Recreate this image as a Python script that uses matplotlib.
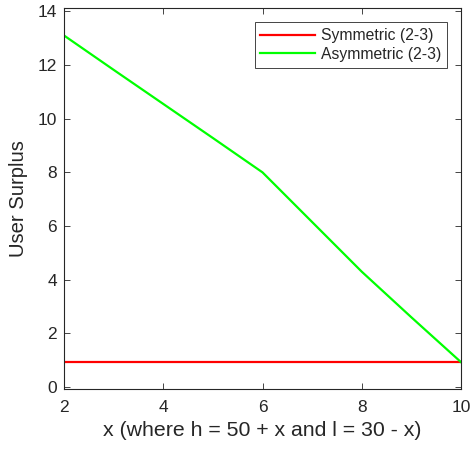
import numpy as np
import matplotlib
matplotlib.use("Agg")
import matplotlib.pyplot as plt

plt.rcParams['font.family'] = ['Liberation Sans', 'DejaVu Sans']

x = [2, 3, 4, 5, 6, 7, 8, 9, 10]
sym = [0.93, 0.93, 0.93, 0.93, 0.93, 0.93, 0.93, 0.93, 0.93]
asym = [13.1, 11.82, 10.55, 9.28, 8.0, 6.15, 4.3, 2.6, 0.93]
labels = ["Symmetric (2-3)", "Asymmetric (2-3)"]

fig = plt.figure(figsize=(4.72, 4.5), dpi=100)
ax = fig.add_axes([0.1356, 0.1356, 0.8411, 0.8464])

ax.plot(x, sym, color=(1, 0, 0), lw=1.6, label=labels[0])
ax.plot(x, asym, color=(0, 1, 0), lw=1.6, label=labels[1])

ax.set_xlim(2, 10)
ax.set_ylim(-0.07, 14.12)
ax.set_xticks([2, 4, 6, 8, 10])
ax.set_yticks([0, 2, 4, 6, 8, 10, 12, 14])

dark = '#262626'
for s in ax.spines.values():
    s.set_color(dark)
    s.set_linewidth(0.8)
ax.tick_params(direction='in', top=True, right=True, length=4, width=0.6,
               colors=dark, labelsize=12.5, labelcolor=dark, pad=5)
ax.tick_params(axis='x', pad=8)
ax.set_xlabel("x (where h = 50 + x and l = 30 - x)", fontsize=15.3, color=dark, labelpad=4)
ax.set_ylabel("User Surplus", fontsize=14.6, color=dark, labelpad=7)

leg = ax.legend(loc='upper right', fontsize=11.3, fancybox=False, framealpha=1,
                edgecolor=dark, bbox_to_anchor=(0.965, 0.963), borderaxespad=0,
                handlelength=3.5, handletextpad=0.35, borderpad=0.38,
                labelspacing=0.22)
leg.get_frame().set_linewidth(0.6)
for t in leg.get_texts():
    t.set_color(dark)

fig.savefig("out.png", dpi=100)
